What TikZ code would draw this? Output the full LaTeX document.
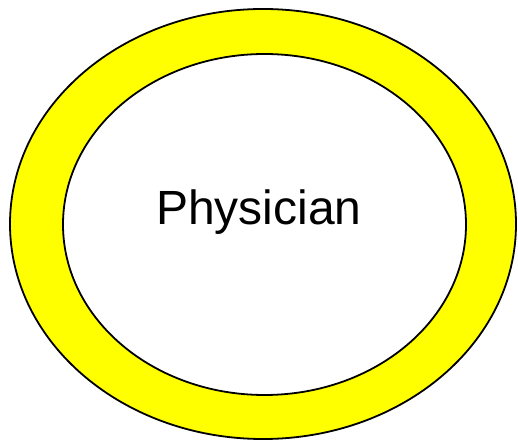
\documentclass[tikz,border=0pt]{standalone}
\usepackage{fontspec}
\setmainfont{Liberation Sans}
\definecolor{ringyellow}{RGB}{255,255,0}
\begin{document}
\begin{tikzpicture}[x=1pt,y=1pt,
  ring/.style={draw=black,line width=1.8pt}]
\useasboundingbox (0,0) rectangle (518,441);
\fill[white] (0,0) rectangle (518,441);
\draw[ring,fill=ringyellow] (263,217) ellipse [x radius=253,y radius=215];
\draw[ring,fill=white] (264.5,216.5) ellipse [x radius=201.5,y radius=170.5];
\node[font=\fontsize{48}{56}\selectfont,inner sep=0pt] (label) at (259,229) {Physician};
\end{tikzpicture}
\end{document}
